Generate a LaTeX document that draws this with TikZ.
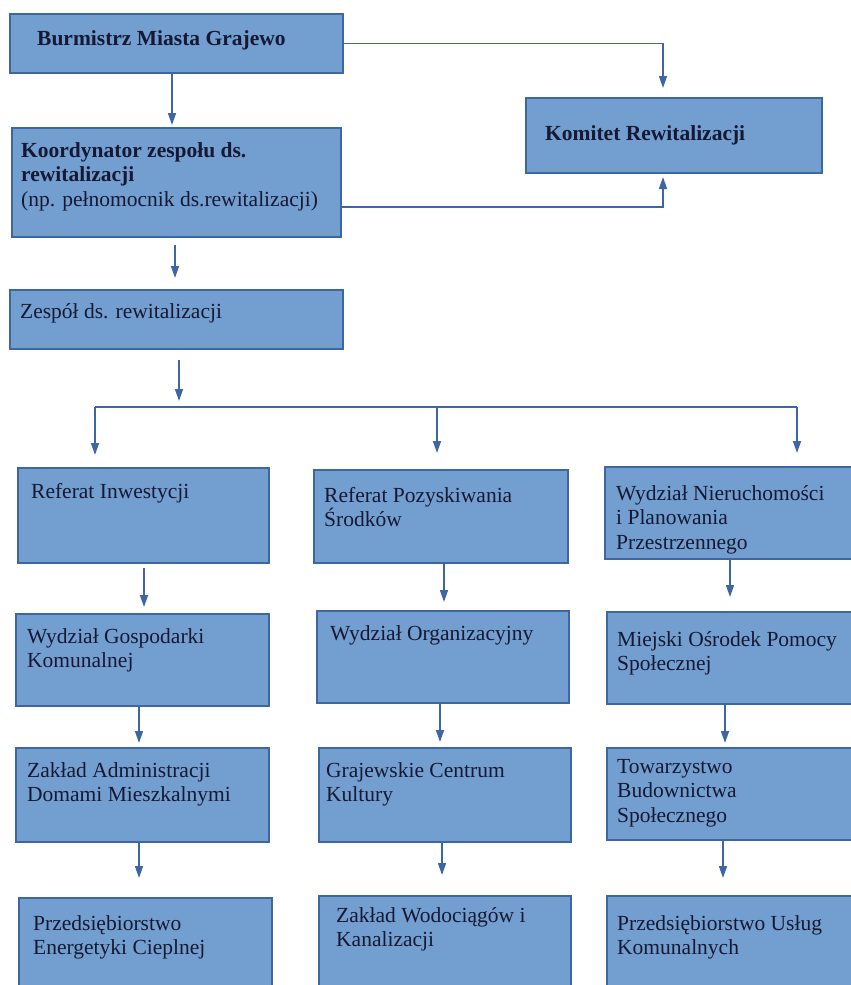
\documentclass[tikz,border=0pt]{standalone}
\usepackage{fontspec}
\setmainfont{Liberation Serif}
\usetikzlibrary{arrows.meta}
\definecolor{boxfill}{RGB}{114,159,207}
\definecolor{boxline}{RGB}{62,102,160}
\definecolor{lineblue}{RGB}{62,102,165}
\definecolor{ink}{RGB}{22,24,52}
\newcommand\tlines[1]{\vtop{\let\\\cr\halign{##\hfil\cr#1\crcr}}}
\tikzset{
  orgbox/.style={draw=boxline, fill=boxfill, line width=1.2pt, anchor=north west, inner sep=0pt, outer sep=0pt},
  txt/.style={anchor=base west, inner sep=0pt, text=ink, font=\fontsize{21.5}{24.5}\selectfont},
  conn/.style={draw=lineblue, line width=1.5pt},
  arr/.style={conn, -{Triangle[length=12pt,width=8pt]}}
}
\begin{document}
\begin{tikzpicture}[x=1pt,y=-1pt]
\useasboundingbox (0,0) rectangle (851,985);
\clip (0,0) rectangle (851,985);
\fill[white] (0,0) rectangle (851,985);

% boxes
\node[orgbox, minimum width=333, minimum height=59]  (bur) at (10,14)  {};
\node[orgbox, minimum width=329, minimum height=109] (koo) at (12,128) {};
\node[orgbox, minimum width=296, minimum height=75]  (kom) at (526,98) {};
\node[orgbox, minimum width=333, minimum height=59]  (zes) at (10,290) {};

\node[orgbox, minimum width=251, minimum height=95]  (ri) at (18,468)  {};
\node[orgbox, minimum width=254, minimum height=93]  (rp) at (314,470) {};
\node[orgbox, minimum width=260, minimum height=92]  (wn) at (605,467) {};

\node[orgbox, minimum width=253, minimum height=92]  (wg) at (16,614)  {};
\node[orgbox, minimum width=252, minimum height=92]  (wo) at (317,611) {};
\node[orgbox, minimum width=260, minimum height=92]  (mo) at (607,612) {};

\node[orgbox, minimum width=253, minimum height=94]  (za) at (16,748)  {};
\node[orgbox, minimum width=252, minimum height=94]  (gc) at (319,748) {};
\node[orgbox, minimum width=260, minimum height=92]  (tb) at (607,748) {};

\node[orgbox, minimum width=253, minimum height=110] (pe) at (19,898)  {};
\node[orgbox, minimum width=252, minimum height=110] (zw) at (319,896) {};
\node[orgbox, minimum width=260, minimum height=110] (pu) at (607,896) {};

% texts
\node[txt] (t-bur) at (37,45)  {\bfseries Burmistrz Miasta Grajewo};
\node[txt] (t-koo) at (21,157) {\tlines{\bfseries Koordynator zespołu ds.\\\bfseries rewitalizacji\\(np. pełnomocnik ds.rewitalizacji)}};
\node[txt] (t-kom) at (545,140) {\bfseries Komitet Rewitalizacji};
\node[txt] (t-zes) at (20,318) {Zespół ds. rewitalizacji};

\node[txt] (t-ri) at (31,498)  {Referat Inwestycji};
\node[txt] (t-rp) at (324,502) {\tlines{Referat Pozyskiwania\\Środków}};
\node[txt] (t-wn) at (616,500) {\tlines{Wydział Nieruchomości\\i Planowania\\Przestrzennego}};

\node[txt] (t-wg) at (27,643)  {\tlines{Wydział Gospodarki\\Komunalnej}};
\node[txt] (t-wo) at (330,640) {Wydział Organizacyjny};
\node[txt] (t-mo) at (617,646) {\tlines{Miejski Ośrodek Pomocy\\Społecznej}};

\node[txt] (t-za) at (27,777)  {\tlines{Zakład Administracji\\Domami Mieszkalnymi}};
\node[txt] (t-gc) at (326,777) {\tlines{Grajewskie Centrum\\Kultury}};
\node[txt] (t-tb) at (617,773) {\tlines{Towarzystwo\\Budownictwa\\Społecznego}};

\node[txt] (t-pe) at (33,930)  {\tlines{Przedsiębiorstwo\\Energetyki Cieplnej}};
\node[txt] (t-zw) at (336,922) {\tlines{Zakład Wodociągów i\\Kanalizacji}};
\node[txt] (t-pu) at (617,930) {\tlines{Przedsiębiorstwo Usług\\Komunalnych}};

% connectors, top part
\draw[arr] ([xshift=162pt]bur.south west) -- ++(0,52);
\draw[arr] (bur.east) -| ([xshift=137pt,yshift=10pt]kom.north west);
\draw[arr] ([yshift=30pt]koo.south east) -| ([xshift=137pt,yshift=-4pt]kom.south west);
\draw[arr] ([xshift=163pt,yshift=-8pt]koo.south west) -- ++(0,33);
\draw[arr] ([xshift=169pt,yshift=-11pt]zes.south west) -- ++(0,41);

% branch
\coordinate (bl) at (95,407);
\coordinate (bm) at (437,407);
\coordinate (br) at (797,407);
\draw[conn] (bl) -- (br);
\draw[arr] (bl) -- ++(0,48);
\draw[arr] (bm) -- ++(0,46);
\draw[arr] (br) -- ++(0,46);

% column 1
\draw[arr] ([xshift=126pt,yshift=-5pt]ri.south west) -- ++(0,39);
\draw[arr] ([xshift=123pt]wg.south west) -- ++(0,37);
\draw[arr] ([xshift=123pt]za.south west) -- ++(0,36);
% column 2
\draw[arr] ([xshift=130pt]rp.south west) -- ++(0,39);
\draw[arr] ([xshift=123pt]wo.south west) -- ++(0,39);
\draw[arr] ([xshift=123pt]gc.south west) -- ++(0,33);
% column 3
\draw[arr] ([xshift=125pt]wn.south west) -- ++(0,38);
\draw[arr] ([xshift=118pt]mo.south west) -- ++(0,39);
\draw[arr] ([xshift=116pt]tb.south west) -- ++(0,38);
\end{tikzpicture}
\end{document}
